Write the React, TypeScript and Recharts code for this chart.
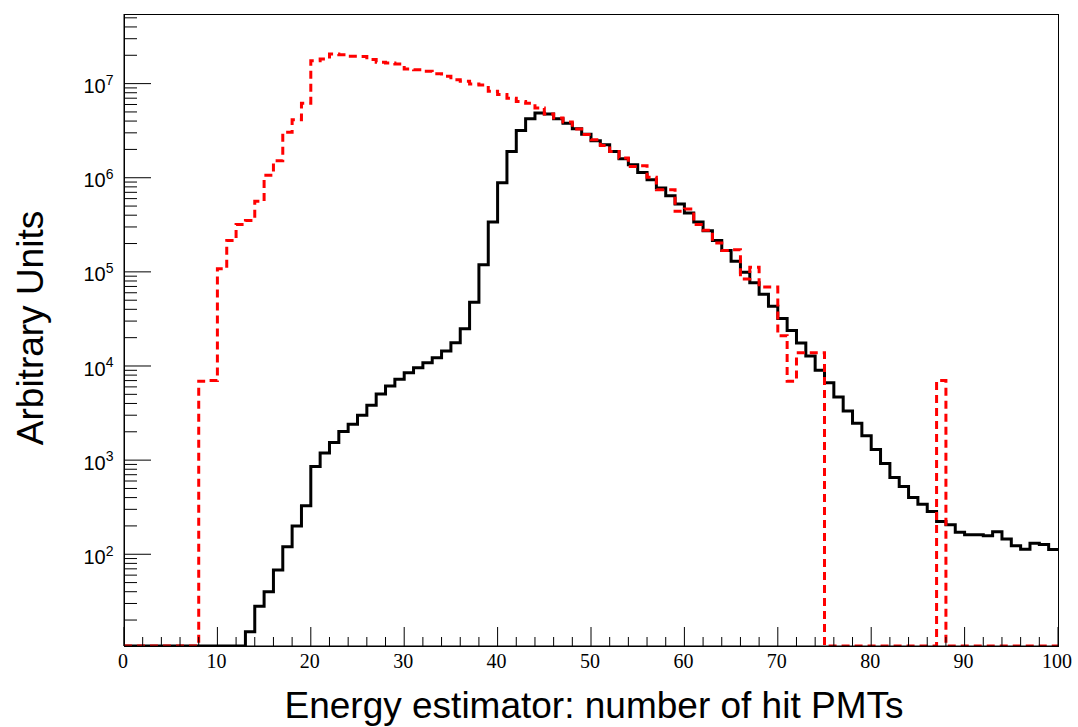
import React from 'react';
import { LineChart, Line, XAxis, YAxis } from 'recharts';

// bin lower edges 0..99, bin width 1 (number of hit PMTs)
const binEdges = Array.from({ length: 101 }, (_, i) => i);

// solid black histogram, one value per bin (0 = empty bin)
const solidCounts = [
  0, 0, 0, 0, 0, 0, 0, 0, 0, 0,
  0, 0, 0, 15, 28, 40, 68, 120, 200, 327,
  855, 1190, 1540, 2010, 2400, 3000, 3820, 5040, 6120, 7210,
  8490, 9590, 10800, 12200, 14400, 17700, 24900, 47600, 119000, 339000,
  885000, 1.9e6, 3.18e6, 4.23e6, 4.86e6, 4.77e6, 4.23e6, 3.8e6, 3.31e6, 2.9e6,
  2.47e6, 2.24e6, 1.9e6, 1.59e6, 1.37e6, 1.14e6, 953000, 778000, 645000, 526000,
  422000, 339000, 274000, 215000, 169000, 130000, 99000, 76400, 58000, 43000,
  32000, 23900, 17500, 12800, 9000, 6650, 4680, 3330, 2460, 1810,
  1300, 920, 654, 525, 401, 340, 285, 223, 206, 171,
  161, 161, 157, 173, 145, 123, 113, 131, 127, 112,
];

// dashed red histogram
const dashedCounts = [
  0, 0, 0, 0, 0, 0, 0, 0, 6900, 7000,
  108000, 215000, 318000, 352000, 561000, 1.06e6, 1.52e6, 3.05e6, 4.12e6, 6.19e6,
  1.75e7, 1.83e7, 2.06e7, 2.03e7, 1.95e7, 1.94e7, 1.8e7, 1.69e7, 1.66e7, 1.62e7,
  1.43e7, 1.4e7, 1.35e7, 1.27e7, 1.2e7, 1.1e7, 1.06e7, 9.93e6, 9.68e6, 8.3e6,
  7.64e6, 7.0e6, 6.44e6, 6.19e6, 5.52e6, 4.77e6, 4.31e6, 3.9e6, 3.3e6, 2.88e6,
  2.53e6, 2.2e6, 1.9e6, 1.62e6, 1.32e6, 1.34e6, 1.01e6, 746000, 746000, 440000,
  466000, 318000, 276000, 203000, 169000, 172000, 84000, 112000, 69000, 69000,
  21000, 6900, 13800, 13800, 13800, 0, 0, 0, 0, 0,
  0, 0, 0, 0, 0, 0, 0, 7000, 0, 0,
  0, 0, 0, 0, 0, 0, 0, 0, 0, 0,
];

const xTicks = Array.from({ length: 51 }, (_, i) => i * 2);
const yDecades = [1, 2, 3, 4, 5, 6, 7];
const yMultipliers = [1, 2, 3, 4, 5, 6, 7, 8, 9];

const Y_MIN = 10.6;
const Y_MAX = 5.49e7;

const yTicks: number[] = [];
yDecades.forEach((d) => {
  yMultipliers.forEach((m) => {
    const v = m * Math.pow(10, d);
    if (v >= Y_MIN && v <= Y_MAX) yTicks.push(v);
  });
});

const floor = (v: number) => (v > 0 ? v : Y_MIN);

const data = binEdges.map((x, i) => {
  const k = Math.min(i, solidCounts.length - 1);
  return { x, solid: floor(solidCounts[k]), dashed: floor(dashedCounts[k]) };
});

const XTick = (props: any) => {
  const { x, y, payload } = props;
  const major = payload.value % 10 === 0;
  return (
    <g>
      <line x1={x} x2={x} y1={y} y2={y - (major ? 19 : 9)} stroke="#000" strokeWidth={1} />
      {major && (
        <text x={x - 1} y={y + 22} textAnchor="middle" fontFamily="Liberation Serif" fontSize={20} fill="#000">
          {payload.value}
        </text>
      )}
    </g>
  );
};

const YTick = (props: any) => {
  const { x, y, payload } = props;
  const exp = Math.log10(payload.value);
  const major = Math.abs(exp - Math.round(exp)) < 1e-6;
  return (
    <g>
      <line x1={x} x2={x + (major ? 27 : 13)} y1={y} y2={y} stroke="#000" strokeWidth={1} />
      {major && (
        <text x={113.5} y={y + 9.6} textAnchor="end" fontFamily="Liberation Sans" fontSize={20} fill="#000">
          <tspan>10</tspan>
          <tspan dy={-8.3} fontSize={14}>{Math.round(exp)}</tspan>
        </text>
      )}
    </g>
  );
};

export default function App() {
  return (
    <div style={{ position: 'absolute', left: 0, top: 0, width: 1078, height: 727, background: '#fff' }}>
      <div
        style={{
          position: 'absolute',
          left: 124,
          top: 14,
          width: 935,
          height: 633,
          border: '1px solid #000',
          boxSizing: 'border-box',
        }}
      />
      <div style={{ position: 'absolute', left: 0, top: 0 }}>
        <LineChart width={1078} height={727} data={data} margin={{ top: 14, right: 20, left: 64, bottom: 41 }}>
          <XAxis
            dataKey="x"
            type="number"
            domain={[0, 100]}
            ticks={xTicks}
            interval={0}
            tick={<XTick />}
            tickLine={false}
            tickSize={0}
            tickMargin={0}
            height={40}
            axisLine={{ stroke: '#000' }}
          />
          <YAxis
            scale="log"
            domain={[Y_MIN, Y_MAX]}
            allowDataOverflow
            ticks={yTicks}
            interval={0}
            tick={<YTick />}
            tickLine={false}
            tickSize={0}
            tickMargin={0}
            width={60}
            axisLine={{ stroke: '#000' }}
          />
          <Line type="stepAfter" dataKey="solid" stroke="#000" strokeWidth={3} dot={false} isAnimationActive={false} />
          <Line
            type="stepAfter"
            dataKey="dashed"
            stroke="#ff0000"
            strokeWidth={3}
            strokeDasharray="8 5"
            dot={false}
            isAnimationActive={false}
          />
        </LineChart>
      </div>
      <div
        style={{
          position: 'absolute',
          left: 594,
          top: 687,
          transform: 'translateX(-50%)',
          fontFamily: 'Liberation Sans',
          fontSize: 37,
          lineHeight: '37px',
          whiteSpace: 'nowrap',
          color: '#000',
        }}
      >
        Energy estimator: number of hit PMTs
      </div>
      <div
        style={{
          position: 'absolute',
          left: 30,
          top: 328,
          transform: 'translate(-50%, -50%) rotate(-90deg)',
          fontFamily: 'Liberation Sans',
          fontSize: 37,
          lineHeight: '37px',
          whiteSpace: 'nowrap',
          color: '#000',
        }}
      >
        Arbitrary Units
      </div>
    </div>
  );
}
